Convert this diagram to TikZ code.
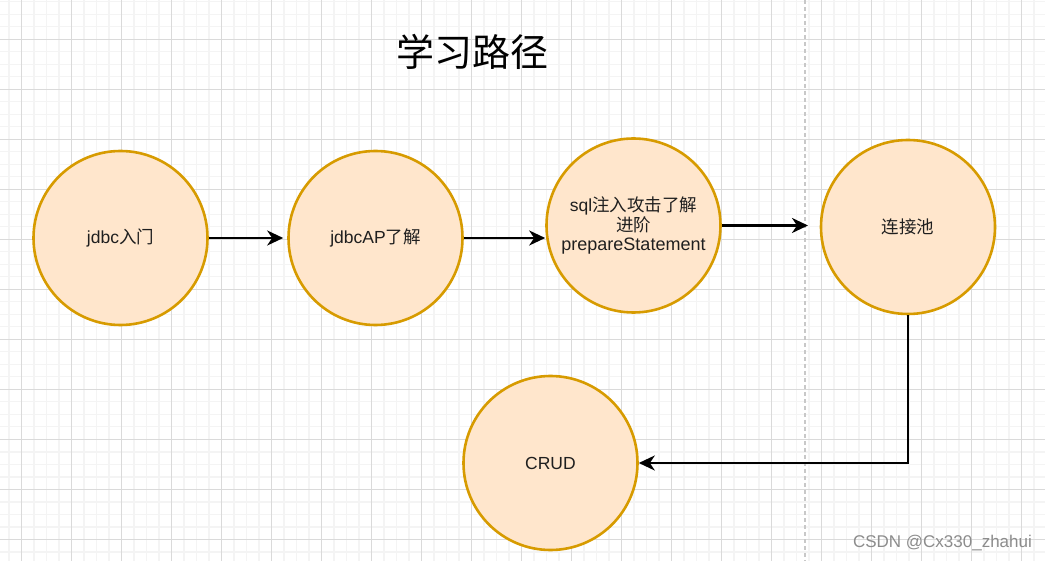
\documentclass[tikz,border=0pt]{standalone}
\usepackage{fontspec}
\setmainfont{Liberation Sans}
\newfontfamily\cjk{Noto Sans CJK SC}
\usetikzlibrary{arrows.meta}

\definecolor{nodefill}{HTML}{FFE6CC}
\definecolor{nodedraw}{HTML}{D79B00}
\definecolor{minorgrid}{HTML}{F4F4F4}
\definecolor{majorgrid}{HTML}{DADADA}
\definecolor{dashgray}{HTML}{C8C8C8}

\begin{document}
\begin{tikzpicture}[x=1pt,y=-1pt,
  stage/.style={circle, draw=nodedraw, fill=nodefill, line width=2.6pt,
    minimum size=174pt, inner sep=0pt, text=black!88, align=center,
    font=\fontsize{17.5}{20}\selectfont},
  flow/.style={line width=2.6pt, draw=black, -{Stealth[length=16pt,width=15pt,inset=5pt]}},
  minorline/.style={draw=minorgrid, line width=1.4pt},
  majorline/.style={draw=majorgrid, line width=1pt},
]
\useasboundingbox (0,0) rectangle (1045,561);
\fill[white] (0,0) rectangle (1045,561);

% grid
\foreach \i in {0,...,82} \draw[minorline] ({8.8+12.5*\i},0) -- ({8.8+12.5*\i},561);
\foreach \i in {0,...,44} \draw[minorline] (0,{1.8+12.5*\i}) -- (1045,{1.8+12.5*\i});
\foreach \i in {0,...,20} \draw[majorline] ({21.3+50*\i},0) -- ({21.3+50*\i},561);
\foreach \i in {0,...,10} \draw[majorline] (0,{39.3+50*\i}) -- (1045,{39.3+50*\i});

% page break line
\draw[draw=dashgray, line width=1.5pt, dash pattern=on 4pt off 3pt] (805,0) -- (805,561);

% title
\node[font=\cjk\fontsize{38}{42}\selectfont, text=black] (title) at (472,52) {学习路径};

% stages
\node[stage] (c1) at (120.5,238) {jdbc{\cjk 入门}};
\node[stage] (c2) at (375.5,238) {jdbcAP{\cjk 了解}};
\node[stage, font=\fontsize{17.5}{19.5}\selectfont] (c3) at (633.5,225.5)
  {sql{\cjk 注入攻击了解}\\{\cjk 进阶}\\{\fontsize{18}{19.5}\selectfont prepareStatement}};
\node[stage] (c4) at (908,227) {\cjk 连接池};
\node[stage] (c5) at (550.5,463) {CRUD};

\coordinate (e34) at (808,225.5);

% connectors
\draw[flow, shorten >=4pt] (c1.east) -- (c2.west);
\draw[flow] (c2.east) -- (c3.west |- c2.east);
\draw[flow] (c3.east) -- (e34);
\draw[flow] (c4.south) |- (c5.east);

% watermark
\node[font=\fontsize{17}{19}\selectfont, text=black!45] (wm) at (942.5,543) {CSDN @Cx330\_zhahui};
\end{tikzpicture}
\end{document}
